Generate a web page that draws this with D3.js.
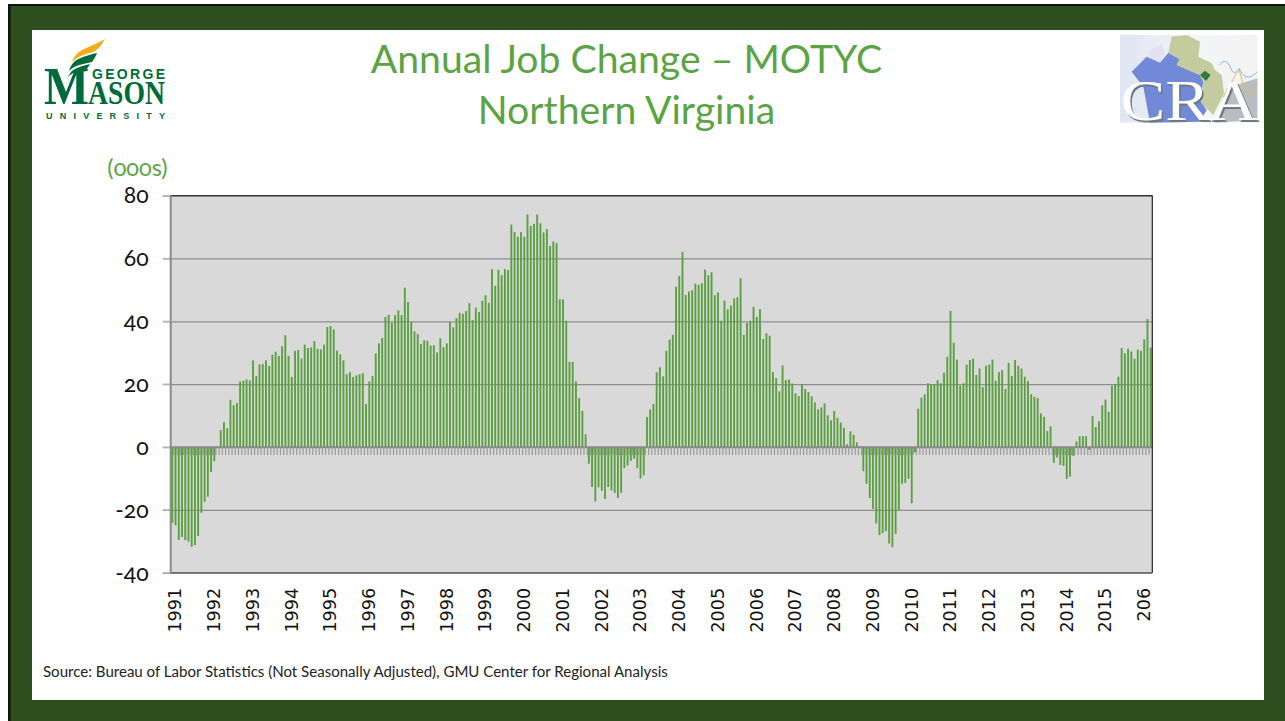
<!DOCTYPE html>
<html><head><meta charset="utf-8">
<script src="https://cdn.jsdelivr.net/npm/d3@7"></script>
<style>
html,body{margin:0;padding:0;background:#fff;overflow:hidden}
svg{display:block}
.corbel{font-family:Lato,"Open Sans",sans-serif;font-variant-numeric:oldstyle-nums;font-feature-settings:"onum" 1}
</style></head><body>
<svg id="c" width="1285" height="721"></svg>
<script>
const titleLines = ["Annual Job Change – MOTYC", "Northern Virginia"];
const unitLabel = "(000s)";
const sourceNote = "Source: Bureau of Labor Statistics (Not Seasonally Adjusted), GMU Center for Regional Analysis";
const yearLabels = ["1991","1992","1993","1994","1995","1996","1997","1998","1999","2000","2001","2002","2003","2004","2005","2006","2007","2008","2009","2010","2011","2012","2013","2014","2015","206"];
const yTicks = [80,60,40,20,0,-20,-40];
const jobChange = [
-24.1,-24.9,-29.5,-28.6,-29.6,-30.1,-31.7,-31.2,-28.3,-20.9,-17.4,-15.8,-7.9,-4.5,0,
5.4,7.9,6.0,15,13.3,14,20.9,21.1,21.5,21.2,27.6,22.6,26.3,26.4,27.6,25.8,29.4,30.3,29,32,35.6,
29,22.3,30.6,30.9,28.2,32.6,31.5,31.7,33.7,31.2,31.1,32.6,38.2,38.5,37.4,30.7,29.5,27.6,23.2,23.8,22.3,22.8,23.2,23.5,
13.7,20.9,22.6,29.8,33,34.7,41.4,42.1,39.5,42,43.5,42,50.7,46.2,39.8,36.8,36,32.8,34,33.8,32.3,32.4,30.1,34.6,
31.8,33,39.8,38.1,41.1,42.7,42.4,43.3,45.8,40.4,44.4,43,46.5,48.3,45.9,56.6,51.3,56.4,54.7,56.6,56.3,
70.8,68.4,66.9,68.4,66.9,74,70.3,71,74,71.2,68.3,69.3,64,65.4,64.9,47,47,40.2,27.1,27.1,20.9,15.6,11.5,4,
-5.3,-12.7,-17.3,-12.8,-13.9,-16.5,-12.7,-13.8,-14.6,-16.2,-14.6,-6.7,-5.9,-4.4,-3.7,-6.7,-10,-9,
9.6,12,13.7,23.8,25.4,22.5,30.6,34.2,35.7,51,54.4,62.1,48.4,49.5,49.9,52,51.6,52.1,56.5,54.7,55.6,48.3,49.2,40.2,
46.6,43.8,45,47.3,47.7,53.7,35.7,39.5,40.2,44.6,41.4,43.9,34.4,36.2,35.4,23.9,21.9,17.7,26,21.3,21.5,20.2,17.1,16.2,
20,18.5,17.5,16.1,14.2,12,12.6,13.9,10.1,8.5,11.5,9.3,7.8,6.1,0.9,5,3.9,1.5,0.2,
-7.7,-11.7,-16.2,-19.7,-24.3,-28,-27.4,-26.7,-30.7,-31.8,-27.6,-20,-11.7,-11.4,-10.1,-17.9,-1.7,
12.2,15.7,16.8,20.3,19.9,19.9,21.3,20.3,23.6,28.7,43.3,33.2,27.8,19.5,20.3,26.2,27.7,28.1,22.9,25,19.1,25.9,26.2,27.8,21.1,23.9,24.5,18.5,26.8,22.6,27.7,25.9,25,22.4,21,16.8,16,15.6,10.7,9.6,5.1,6.6,
-5,-3.3,-5.7,-6,-10.1,-9.4,-2.8,1.8,3.4,3.5,3.5,-0.9,
9.9,6.4,8.2,13.3,15.1,11.2,19.5,20,22.4,31.5,29.8,31.3,30.4,28.1,31,30.6,34.3,40.7,31.6
];
const months = jobChange.map((_, i) => i);

const svg = d3.select("#c");
const GREEN = "#2d4f1e", TXT = "#5ba344";

// slide frame
svg.append("rect").attr("x",8).attr("y",4).attr("width",1277).attr("height",717).attr("fill","#0c150a");
svg.append("rect").attr("x",10.5).attr("y",6).attr("width",1275).attr("height",715).attr("fill",GREEN);
svg.append("rect").attr("x",32).attr("y",30).attr("width",1232).attr("height",670).attr("fill","#fff");

// title
const tt = svg.append("g").attr("class","corbel").attr("fill",TXT).attr("text-anchor","middle").style("font-size","39.2px");
tt.selectAll("text").data(titleLines).join("text").text(d=>d)
  .attr("x",626.5).attr("y",(d,i)=>73+i*51);

// chart
const L=170.7,R=1152.3,T=195.6,B=572.8;
const x = d3.scaleBand().domain(months).range([L,R]).paddingInner(0.42).paddingOuter(0.21);
const y = d3.scaleLinear().domain([-40,80]).range([B,T]);
const g = svg.append("g");
g.append("rect").attr("x",L).attr("y",T).attr("width",R-L).attr("height",B-T).attr("fill","#d9d9d9");

// horizontal grid and value axis
const yAxis = d3.axisLeft(y).tickValues(yTicks).tickSize(R-L+8).tickPadding(5).tickFormat(d=>String(d));
const ya = g.append("g").attr("transform",`translate(${R},0)`).call(yAxis);
ya.select(".domain").remove();
ya.selectAll(".tick line").attr("stroke","#8e8e8e").attr("stroke-width",1.3);
ya.selectAll(".tick text").attr("class","corbel").attr("x",-(R-L+8+2+12))
  .style("font-size","23px").style("font-family",'Lato,"Open Sans",sans-serif').attr("fill","#111").attr("text-anchor","end");
// short light part of each tick left of the plot
g.selectAll(".stub").data(yTicks).join("rect").attr("class","stub")
  .attr("x",L-8).attr("width",8).attr("y",d=>y(d)-0.7).attr("height",1.4).attr("fill","#bdbdbd");

// monthly ticks along the zero line
const step = x.step();
const mAxis = d3.axisBottom(x).tickValues(months).tickSize(8).tickFormat("");
const ma = g.append("g").attr("transform",`translate(${-step/2},${y(0)})`).call(mAxis);
ma.select(".domain").remove();
ma.selectAll(".tick line").attr("stroke","#9a9a9a").attr("stroke-width",1.2);

// bars
g.selectAll(".bar").data(jobChange).join("rect").attr("class","bar")
  .attr("x",(d,i)=>x(i)).attr("width",x.bandwidth())
  .attr("y",d=>Math.min(y(d),y(0))).attr("height",d=>Math.abs(y(d)-y(0)))
  .attr("fill","#5aa040");

// zero line and frame
g.append("line").attr("x1",L).attr("x2",R).attr("y1",y(0)).attr("y2",y(0)).attr("stroke","#8a8a8a").attr("stroke-width",1.5);
g.append("line").attr("x1",L).attr("x2",R).attr("y1",T).attr("y2",T).attr("stroke","#333").attr("stroke-width",1.2);
g.append("line").attr("x1",R).attr("x2",R).attr("y1",T).attr("y2",B).attr("stroke","#222").attr("stroke-width",1.2);
g.append("line").attr("x1",L).attr("x2",R).attr("y1",B).attr("y2",B).attr("stroke","#6e6e6e").attr("stroke-width",1.6);
g.append("line").attr("x1",L).attr("x2",L).attr("y1",T).attr("y2",B).attr("stroke","#8a8a8a").attr("stroke-width",2);

// year labels
const yearIdx = yearLabels.map((_, i) => i*12);
const xa = g.append("g").attr("transform",`translate(0,${B})`)
  .call(d3.axisBottom(x).tickValues(yearIdx).tickSize(0).tickFormat((d,i)=>yearLabels[i]));
xa.select(".domain").remove();
xa.selectAll("text").style("font-family","'DejaVu Sans'").style("font-size","17.6px").attr("fill","#111")
  .attr("text-anchor","end").attr("dy",0).attr("y",0)
  .attr("transform","translate(9,15) rotate(-90)");

// unit + source
svg.append("text").attr("class","corbel").attr("x",137.5).attr("y",176).attr("text-anchor","middle").style("font-size","23.5px").attr("fill",TXT).text(unitLabel);
svg.append("text").attr("x",43).attr("y",677).style("font-family",'Lato,sans-serif').style("font-size","15.05px").attr("fill","#222").text(sourceNote);

// GMU logo
const lg = svg.append("g");
const MG="#006b3a";
lg.append("path").attr("fill","#f0ac1e").attr("d","M105,39 C97,44 84,48 79,52 C75,55 73,59 72,62 C78,56 86,54 93,52 C99,49 102,44 105,39Z");
lg.append("path").attr("fill",MG).attr("d","M97,53 C88,55 78,58 74,62 C71,65 70,68 69,71 C75,65 83,64 92,62 C94,59 96,56 97,53Z");
lg.append("path").attr("fill",MG).attr("d","M90,64 C82,66 75,68 72,71 C70,73 69,75 68,77 C73,72 80,70 87,69Z");
lg.append("text").attr("x",92).attr("y",79).style("font-family","'Liberation Sans'").attr("font-weight",700).style("font-size","14px").attr("fill",MG).attr("textLength",73).text("GEORGE");
lg.append("text").attr("x",44).attr("y",104).style("font-family","'Liberation Serif'").attr("font-weight",700).style("font-size","53px").attr("fill",MG).attr("textLength",45).attr("lengthAdjust","spacingAndGlyphs").text("M");
lg.append("text").attr("x",88).attr("y",104).style("font-family","'Liberation Serif'").attr("font-weight",700).style("font-size","33px").attr("fill",MG).attr("textLength",77).attr("lengthAdjust","spacingAndGlyphs").text("ASON");
lg.append("text").attr("x",46).attr("y",118.5).style("font-family","'Liberation Sans'").attr("font-weight",700).style("font-size","9px").attr("fill",MG).attr("textLength",119).text("UNIVERSITY");

// CRA logo
const defs = svg.append("defs");
const gr = defs.append("linearGradient").attr("id","craBg").attr("x1",0).attr("y1",0).attr("x2",1).attr("y2",0);
gr.append("stop").attr("offset",0).attr("stop-color","#dfe6f3");
gr.append("stop").attr("offset",0.6).attr("stop-color","#f4f5f7");
gr.append("stop").attr("offset",1).attr("stop-color","#f2f2f2");
const cra = svg.append("g").attr("transform","translate(1100,20) scale(0.3333)");
cra.append("rect").attr("x",60).attr("y",45).attr("width",412).attr("height",263).attr("fill","url(#craBg)");
cra.append("path").attr("fill","#b9bcc2").attr("d","M380,205 L472,175 L472,300 L345,308Z");
cra.append("path").attr("fill","#e6e1f2").attr("d","M145,95 L185,70 L195,100 L180,128 L150,115Z");
cra.append("path").attr("fill","#7189d6").attr("d","M95,155 L140,110 L180,128 L205,98 L240,118 L230,135 L300,165 L310,185 L300,240 L320,270 L300,305 L150,308 L130,200Z");
cra.append("path").attr("fill","#c4cc9f").attr("d","M205,98 L215,50 L260,45 L300,65 L295,110 L335,130 L345,150 L365,165 L372,220 L340,285 L305,250 L310,185 L300,165 L230,135 L240,118Z");
cra.append("path").attr("fill","#2f7a3f").attr("d","M300,165 L315,152 L332,165 L318,183Z");
cra.append("path").attr("fill","none").attr("stroke","#7fb5e8").attr("stroke-width",3).attr("d","M358,135 C375,115 385,125 395,150 C402,165 410,155 418,145 C430,175 450,180 472,155");
cra.append("path").attr("fill","none").attr("stroke","#e8b860").attr("stroke-width",3).attr("d","M370,230 C395,190 405,160 418,150 C430,200 445,260 472,190");
const craTxt = (dx,dy,fill)=>cra.append("text").attr("x",62+dx).attr("y",300+dy).style("font-family","'Liberation Serif'").style("font-size","172px").attr("fill",fill).attr("textLength",412).attr("lengthAdjust","spacingAndGlyphs").text("CRA");
craTxt(5,5,"#6f7782");
craTxt(0,0,"#fff");
</script>
</body></html>
